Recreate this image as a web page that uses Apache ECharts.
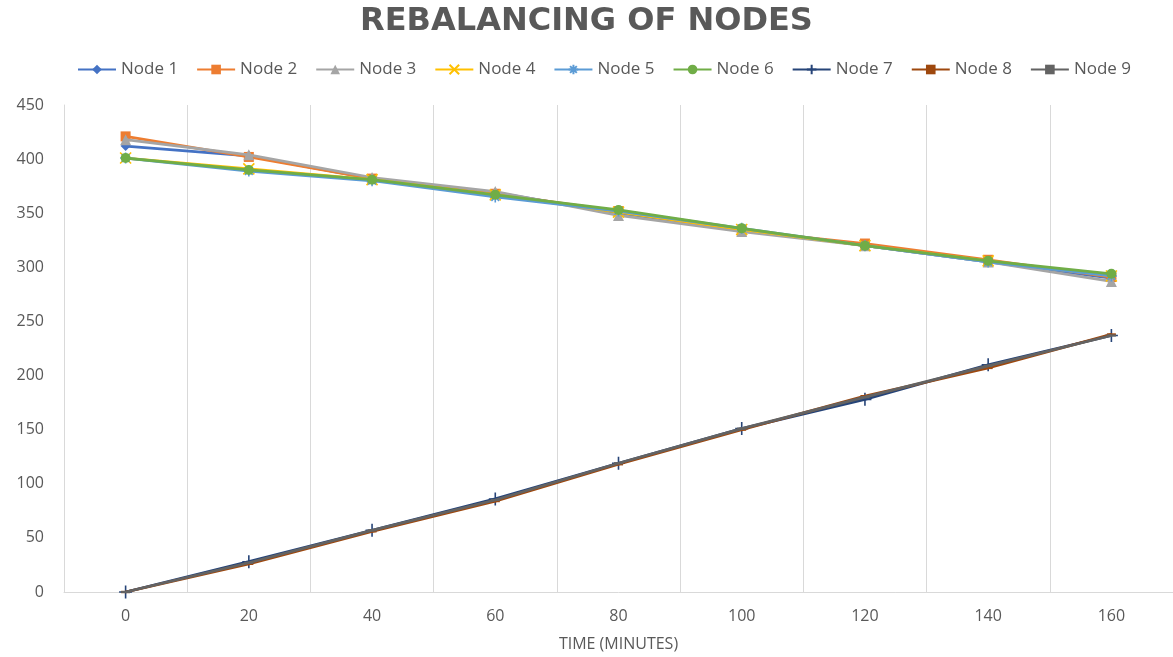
<!DOCTYPE html>
<html><head><meta charset="utf-8">
<script src="https://cdn.jsdelivr.net/npm/echarts@6/dist/echarts.min.js"></script>
<style>html,body{margin:0;padding:0;background:#fff}#c{width:1173px;height:657px}</style>
</head><body><div id="c"></div>
<script>
const categories = ['0','20','40','60','80','100','120','140','160'];
const yTicks = [0,50,100,150,200,250,300,350,400,450];
const node1 = [412,403,382,369,350,335,320,305,290];
const node2 = [421,402,382,368,352,334,322,307,291];
const node3 = [418,404,383,370,348,333,320,305,287];
const node4 = [401,391,381,367,351,335,320,306,292];
const node5 = [401,389,380,365,352,336,320,305,292];
const node6 = [401,390,381,367,353,336,320,306,294];
const node7 = [0,28,57,86,119,151,178,210,237];
const node8 = [0,26,56,84,118,150,181,207,238];
const node9 = [0,27,57,85,119,151,180,209,237];
const names = ['Node 1','Node 2','Node 3','Node 4','Node 5','Node 6','Node 7','Node 8','Node 9'];
const seriesData = [node1,node2,node3,node4,node5,node6,node7,node8,node9];

const colors = ['#4472C4','#ED7D31','#A5A5A5','#FFC000','#5B9BD5','#70AD47','#264478','#9E480E','#636363'];
const dash = 'path://M0,0L10,0L10,2.5L0,2.5Z';
const symbols = ['diamond','rect','triangle','path://M0,0L10,10M10,0L0,10','path://M0,5L10,5M5,0L5,10M1.5,1.5L8.5,8.5M8.5,1.5L1.5,8.5','circle','path://M0,5L10,5M5,0L5,10',dash,dash];
const sizes = [10,10,11,11,11,10,13,9,9];
const lineSym = [false,false,false,true,true,false,true,false,false];

const chart = echarts.init(document.getElementById('c'));
chart.setOption({
  animation:false,
  color: colors,
  title:{text:'REBALANCING OF NODES', left:'center', top:1,
    textStyle:{fontFamily:'DejaVu Sans', fontWeight:'bold', fontSize:32, color:'#595959'}},
  legend:{top:56, left:72, itemGap:18, itemWidth:38, itemHeight:12,
    textStyle:{fontFamily:'Open Sans', fontSize:17, color:'#595959'},
    data:names},
  grid:{left:64, right:0, top:105, bottom:59, containLabel:false},
  xAxis:{type:'category', data:categories, boundaryGap:true,
    name:'TIME (MINUTES)', nameLocation:'middle', nameGap:44,
    nameTextStyle:{fontFamily:'Open Sans', fontSize:16, color:'#595959'},
    axisLine:{lineStyle:{color:'#D9D9D9', width:1}},
    axisTick:{show:false},
    axisLabel:{fontFamily:'Open Sans', fontSize:16, color:'#595959', margin:16},
    splitLine:{show:true, lineStyle:{color:'#D9D9D9', width:1}}},
  yAxis:{type:'value', min:yTicks[0], max:yTicks[yTicks.length-1], interval:50,
    axisLine:{show:true, lineStyle:{color:'#D9D9D9', width:1}},
    axisTick:{show:false},
    axisLabel:{fontFamily:'Open Sans', fontSize:16, color:'#595959', margin:20},
    splitLine:{show:false}},
  series: seriesData.map((d,i)=>({
    name:names[i], type:'line', data:d,
    symbol:symbols[i], symbolSize:sizes[i], symbolKeepAspect:true, showAllSymbol:true,
    lineStyle:{width:2.75, color:colors[i]},
    itemStyle: lineSym[i] ? {color:colors[i], borderColor:colors[i], borderWidth:1.6} : {color:colors[i]},
    z: 2 + i
  }))
});
</script></body></html>
